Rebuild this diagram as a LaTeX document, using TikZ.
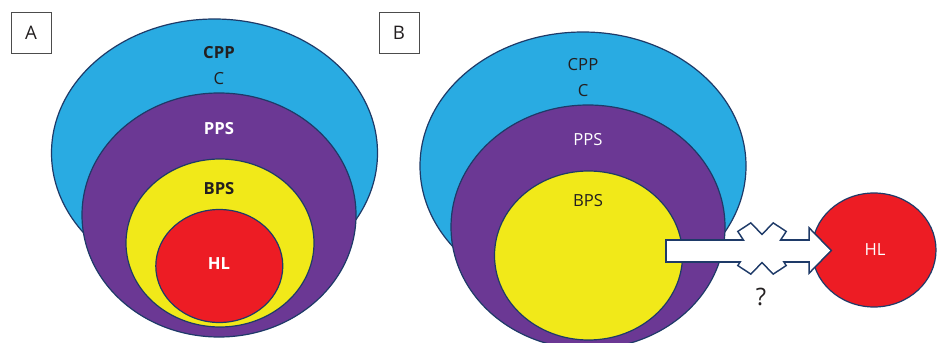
\documentclass[tikz,border=0pt]{standalone}
\usepackage{fontspec}
\setmainfont{Open Sans}
\usetikzlibrary{shapes.geometric}
\definecolor{cppblue}{HTML}{29ABE2}
\definecolor{ppspurple}{HTML}{6B3894}
\definecolor{bpsyellow}{HTML}{F1E919}
\definecolor{hlred}{HTML}{ED1C24}
\definecolor{edgeblue}{HTML}{1E3A68}
\definecolor{txt}{HTML}{231F20}
\newcommand\arrowshaft{(667,240.7) rectangle (812,261)}
\newcommand\arrowhd{(810,230) -- (830,250.5) -- (810,271) -- cycle}
\newcommand\arrowcross{(739,231.7) -- (750.7,224) -- (762,235.7) -- (773.3,224) --
  (785,231.7) -- (774,248.5) -- (785,265.3) -- (773.3,273) -- (762,261.3) --
  (750.7,273) -- (739,265.3) -- (750,248.5) -- cycle}
\begin{document}
\begin{tikzpicture}[x=0.75pt, y=-0.75pt,
  zone/.style={ellipse, draw=edgeblue, line width=0.9pt, inner sep=0pt},
  lab/.style={font=\fontsize{12.5}{14}\selectfont, text=txt, inner sep=0pt},
  labbold/.style={lab, font=\fontsize{12.5}{14}\selectfont\bfseries},
  panelbox/.style={draw=black!70, line width=0.6pt, minimum width=30pt, minimum height=30.75pt, inner sep=0pt, font=\fontsize{14}{16}\selectfont, text=txt},
  arrowedge/.style={draw=edgeblue, line width=2.4pt, line join=miter}]
\useasboundingbox (0,0) rectangle (944,342);
\fill[white] (0,0) rectangle (944,342);

% Panel A
\node[panelbox] (boxA) at (31,32.5) {A};
\node[zone, fill=cppblue, minimum width=244.5pt, minimum height=201pt] (cppA) at (214.5,153) {};
\node[zone, fill=ppspurple, minimum width=205.5pt, minimum height=183pt] (ppsA) at (219,215) {};
\node[zone, fill=bpsyellow, minimum width=141pt, minimum height=126pt] (bpsA) at (220,243) {};
\node[zone, fill=hlred, minimum width=95.25pt, minimum height=84.75pt] (hlA) at (219.3,266) {};
\node[labbold] (tcppA) at (219,53) {CPP};
\node[lab] (tcA) at (219,79) {C};
\node[labbold, text=white] (tppsA) at (219,129) {PPS};
\node[labbold] (tbpsA) at (219,189) {BPS};
\node[labbold, text=white] (thlA) at (219,264) {HL};

% Panel B
\node[panelbox] (boxB) at (399,33) {B};
\node[zone, fill=cppblue, minimum width=244.5pt, minimum height=201pt] (cppB) at (583,166) {};
\node[zone, fill=ppspurple, minimum width=205.5pt, minimum height=183pt] (ppsB) at (588,227) {};
\node[zone, fill=bpsyellow, minimum width=141pt, minimum height=126.75pt] (bpsB) at (588.5,255.5) {};
\node[zone, fill=hlred, minimum width=93pt, minimum height=85.5pt] (hlB) at (874,250) {};
\node[lab] (tcppB) at (583,65) {CPP};
\node[lab] (tcB) at (583,91) {C};
\node[lab, text=white] (tppsB) at (588,140) {PPS};
\node[lab] (tbpsB) at (588,201) {BPS};
\node[lab, text=white] (thlB) at (875,250) {HL};

% blocked block arrow (outline of the union, then white fill)
\path[arrowedge] \arrowshaft;
\path[arrowedge] \arrowhd;
\path[arrowedge] \arrowcross;
\fill[white] \arrowshaft;
\fill[white] \arrowhd;
\fill[white] \arrowcross;
\node[lab, font=\fontsize{18}{20}\selectfont] (qmark) at (761,297) {?};
\end{tikzpicture}
\end{document}
